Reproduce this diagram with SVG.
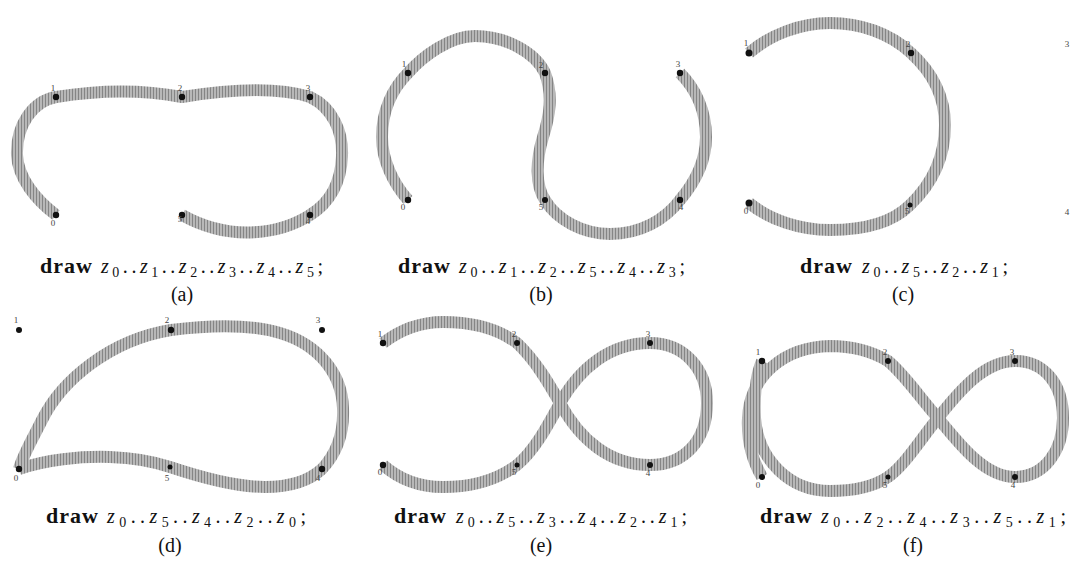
<svg xmlns="http://www.w3.org/2000/svg" width="1071" height="562" viewBox="0 0 1071 562">
<defs>
<pattern id="hatch" patternUnits="userSpaceOnUse" width="3" height="3">
<rect width="3" height="3" fill="#b8b8b8"/>
<rect width="1" height="3" fill="#858585"/>
</pattern>
</defs>
<style>
.band{fill:none;stroke:url(#hatch);stroke-width:12;stroke-linecap:butt;stroke-linejoin:round}
.pt{fill:#111}
.lbl{font-family:"Liberation Serif","DejaVu Serif",serif;font-size:9px;fill:#444;text-anchor:middle}
.cap{font-family:"Liberation Serif","DejaVu Serif",serif;font-size:20px;fill:#111}
.lab{font-family:"Liberation Serif","DejaVu Serif",serif;font-size:20px;fill:#111;text-anchor:middle}
.b{font-weight:bold;font-size:22px}
.i{font-style:italic}
.s{font-size:14px}
</style>
<rect width="1071" height="562" fill="#fff"/>

<g id="connectors">
<path class="band" d="M56,215 C36,200 18,178 17,155 C16,125 33,101 56,97 C98,90 140,89 182,97 C225,90 275,86 310,97 C333,108 343,132 342,156 C341,182 330,203 310,215 C282,233 232,243 182,215"/>
<path class="band" d="M408,200 C393,183 382,160 382,137 C382,110 393,88 408,73 C423,56 450,36 475,36 C505,36 535,52 545,73 C553,95 550,115 543,137 C536,160 535,185 545,200 C557,220 583,234 610,234 C640,234 665,220 680,200 C697,180 706,160 706,137 C706,110 695,88 680,73"/>
<path class="band" d="M749,203 C770,220 800,230 830,230 C865,230 893,222 910,205 C933,183 945,155 945,125 C945,97 932,72 911,53 C890,33 860,23 830,23 C800,23 770,35 749,53"/>
<path class="band" d="M19,469 C45,460 80,456 110,457 C135,458 155,462 170,467 C200,477 235,487 265,487 C290,487 310,480 322,469 C338,452 344,430 343,408 C342,375 320,345 280,333 C250,324 210,325 171,330 C110,340 62,380 42,420 C32,440 23,455 19,469"/>
<path class="band" d="M383,465 C400,480 420,487 443,487 C470,487 497,480 517,465 C535,450 548,425 560,403 C580,368 610,343 650,343 C685,343 707,370 707,403 C707,440 685,465 650,465 C610,465 580,440 560,403 C548,382 535,360 517,343 C497,328 470,322 443,322 C420,322 400,330 383,343"/>
<path class="band" d="M762,477 C752,460 747,440 748,418 C750,375 785,347 830,346 C855,346 873,352 888,361 C905,375 920,398 938,418 C960,445 985,477 1015,477 C1045,477 1063,450 1063,418 C1063,385 1045,361 1015,361 C985,361 960,390 938,418 C920,440 905,465 888,477 C873,487 855,491 830,491 C790,491 758,460 755,418 C754,395 756,375 762,361"/>
</g>

<g id="panel-a">
<circle class="pt" cx="56" cy="215" r="3.2"/><circle class="pt" cx="56" cy="97" r="3.2"/><circle class="pt" cx="182" cy="97" r="3.2"/>
<circle class="pt" cx="310" cy="97" r="3.2"/><circle class="pt" cx="310" cy="215" r="3.2"/><circle class="pt" cx="182" cy="215" r="3.2"/>
<text class="lbl" x="53" y="91">1</text><text class="lbl" x="180" y="91">2</text><text class="lbl" x="308" y="91">3</text>
<text class="lbl" x="53" y="226">0</text><text class="lbl" x="180" y="222">5</text><text class="lbl" x="308" y="224">4</text>
<text class="cap b" x="40" y="273" textLength="52" lengthAdjust="spacing">draw</text>
<text class="cap" x="101" y="273" textLength="222" lengthAdjust="spacing"><tspan class="i">z</tspan><tspan class="s" dy="4">0</tspan><tspan dy="-4">..</tspan><tspan class="i">z</tspan><tspan class="s" dy="4">1</tspan><tspan dy="-4">..</tspan><tspan class="i">z</tspan><tspan class="s" dy="4">2</tspan><tspan dy="-4">..</tspan><tspan class="i">z</tspan><tspan class="s" dy="4">3</tspan><tspan dy="-4">..</tspan><tspan class="i">z</tspan><tspan class="s" dy="4">4</tspan><tspan dy="-4">..</tspan><tspan class="i">z</tspan><tspan class="s" dy="4">5</tspan><tspan dy="-4">;</tspan></text>
<text class="lab" x="182" y="301">(a)</text>
</g>

<g id="panel-b">
<circle class="pt" cx="408" cy="200" r="3.2"/><circle class="pt" cx="408" cy="73" r="3.2"/><circle class="pt" cx="545" cy="73" r="3.2"/>
<circle class="pt" cx="680" cy="73" r="3.2"/><circle class="pt" cx="680" cy="200" r="3.2"/><circle class="pt" cx="545" cy="200" r="3"/>
<text class="lbl" x="404" y="67">1</text><text class="lbl" x="541" y="68">2</text><text class="lbl" x="678" y="67">3</text>
<text class="lbl" x="403" y="210">0</text><text class="lbl" x="541" y="210">5</text><text class="lbl" x="681" y="210">4</text>
<text class="cap b" x="398" y="273" textLength="52" lengthAdjust="spacing">draw</text>
<text class="cap" x="459" y="273" textLength="226" lengthAdjust="spacing"><tspan class="i">z</tspan><tspan class="s" dy="4">0</tspan><tspan dy="-4">..</tspan><tspan class="i">z</tspan><tspan class="s" dy="4">1</tspan><tspan dy="-4">..</tspan><tspan class="i">z</tspan><tspan class="s" dy="4">2</tspan><tspan dy="-4">..</tspan><tspan class="i">z</tspan><tspan class="s" dy="4">5</tspan><tspan dy="-4">..</tspan><tspan class="i">z</tspan><tspan class="s" dy="4">4</tspan><tspan dy="-4">..</tspan><tspan class="i">z</tspan><tspan class="s" dy="4">3</tspan><tspan dy="-4">;</tspan></text>
<text class="lab" x="541" y="301">(b)</text>
</g>

<g id="panel-c">
<circle class="pt" cx="749" cy="203" r="3.5"/><circle class="pt" cx="749" cy="53" r="3.5"/><circle class="pt" cx="911" cy="53" r="3.2"/>
<circle class="pt" cx="910" cy="205" r="2.5"/>
<text class="lbl" x="746" y="46">1</text><text class="lbl" x="908" y="47">2</text><text class="lbl" x="1067" y="47">3</text>
<text class="lbl" x="746" y="214">0</text><text class="lbl" x="907" y="214">5</text><text class="lbl" x="1067" y="215">4</text>
<text class="cap b" x="800" y="273" textLength="52" lengthAdjust="spacing">draw</text>
<text class="cap" x="862" y="273" textLength="146" lengthAdjust="spacing"><tspan class="i">z</tspan><tspan class="s" dy="4">0</tspan><tspan dy="-4">..</tspan><tspan class="i">z</tspan><tspan class="s" dy="4">5</tspan><tspan dy="-4">..</tspan><tspan class="i">z</tspan><tspan class="s" dy="4">2</tspan><tspan dy="-4">..</tspan><tspan class="i">z</tspan><tspan class="s" dy="4">1</tspan><tspan dy="-4">;</tspan></text>
<text class="lab" x="903" y="301">(c)</text>
</g>

<g id="panel-d">
<circle class="pt" cx="19" cy="469" r="3.2"/><circle class="pt" cx="19" cy="330" r="3"/><circle class="pt" cx="171" cy="330" r="3.2"/>
<circle class="pt" cx="322" cy="330" r="3"/><circle class="pt" cx="322" cy="469" r="3.2"/><circle class="pt" cx="170" cy="467" r="2.5"/>
<text class="lbl" x="16" y="323">1</text><text class="lbl" x="167" y="323">2</text><text class="lbl" x="318" y="323">3</text>
<text class="lbl" x="16" y="481">0</text><text class="lbl" x="167" y="481">5</text><text class="lbl" x="318" y="481">4</text>
<text class="cap b" x="46" y="523" textLength="52" lengthAdjust="spacing">draw</text>
<text class="cap" x="107" y="523" textLength="199" lengthAdjust="spacing"><tspan class="i">z</tspan><tspan class="s" dy="4">0</tspan><tspan dy="-4">..</tspan><tspan class="i">z</tspan><tspan class="s" dy="4">5</tspan><tspan dy="-4">..</tspan><tspan class="i">z</tspan><tspan class="s" dy="4">4</tspan><tspan dy="-4">..</tspan><tspan class="i">z</tspan><tspan class="s" dy="4">2</tspan><tspan dy="-4">..</tspan><tspan class="i">z</tspan><tspan class="s" dy="4">0</tspan><tspan dy="-4">;</tspan></text>
<text class="lab" x="170" y="552">(d)</text>
</g>

<g id="panel-e">
<circle class="pt" cx="383" cy="465" r="3.2"/><circle class="pt" cx="383" cy="343" r="3.2"/><circle class="pt" cx="517" cy="343" r="3"/>
<circle class="pt" cx="650" cy="343" r="3"/><circle class="pt" cx="650" cy="465" r="3"/><circle class="pt" cx="517" cy="465" r="2.5"/>
<text class="lbl" x="380" y="337">1</text><text class="lbl" x="514" y="337">2</text><text class="lbl" x="648" y="337">3</text>
<text class="lbl" x="380" y="475">0</text><text class="lbl" x="514" y="475">5</text><text class="lbl" x="648" y="476">4</text>
<text class="cap b" x="394" y="523" textLength="52" lengthAdjust="spacing">draw</text>
<text class="cap" x="456" y="523" textLength="231" lengthAdjust="spacing"><tspan class="i">z</tspan><tspan class="s" dy="4">0</tspan><tspan dy="-4">..</tspan><tspan class="i">z</tspan><tspan class="s" dy="4">5</tspan><tspan dy="-4">..</tspan><tspan class="i">z</tspan><tspan class="s" dy="4">3</tspan><tspan dy="-4">..</tspan><tspan class="i">z</tspan><tspan class="s" dy="4">4</tspan><tspan dy="-4">..</tspan><tspan class="i">z</tspan><tspan class="s" dy="4">2</tspan><tspan dy="-4">..</tspan><tspan class="i">z</tspan><tspan class="s" dy="4">1</tspan><tspan dy="-4">;</tspan></text>
<text class="lab" x="541" y="552">(e)</text>
</g>

<g id="panel-f">
<circle class="pt" cx="762" cy="477" r="3"/><circle class="pt" cx="762" cy="361" r="3.2"/><circle class="pt" cx="888" cy="361" r="3"/>
<circle class="pt" cx="1015" cy="361" r="3"/><circle class="pt" cx="1015" cy="477" r="3"/><circle class="pt" cx="888" cy="477" r="2.5"/>
<text class="lbl" x="758" y="355">1</text><text class="lbl" x="885" y="355">2</text><text class="lbl" x="1012" y="355">3</text>
<text class="lbl" x="758" y="488">0</text><text class="lbl" x="885" y="488">5</text><text class="lbl" x="1013" y="488">4</text>
<text class="cap b" x="760" y="523" textLength="52" lengthAdjust="spacing">draw</text>
<text class="cap" x="821" y="523" textLength="245" lengthAdjust="spacing"><tspan class="i">z</tspan><tspan class="s" dy="4">0</tspan><tspan dy="-4">..</tspan><tspan class="i">z</tspan><tspan class="s" dy="4">2</tspan><tspan dy="-4">..</tspan><tspan class="i">z</tspan><tspan class="s" dy="4">4</tspan><tspan dy="-4">..</tspan><tspan class="i">z</tspan><tspan class="s" dy="4">3</tspan><tspan dy="-4">..</tspan><tspan class="i">z</tspan><tspan class="s" dy="4">5</tspan><tspan dy="-4">..</tspan><tspan class="i">z</tspan><tspan class="s" dy="4">1</tspan><tspan dy="-4">;</tspan></text>
<text class="lab" x="913" y="552">(f)</text>
</g>
</svg>
